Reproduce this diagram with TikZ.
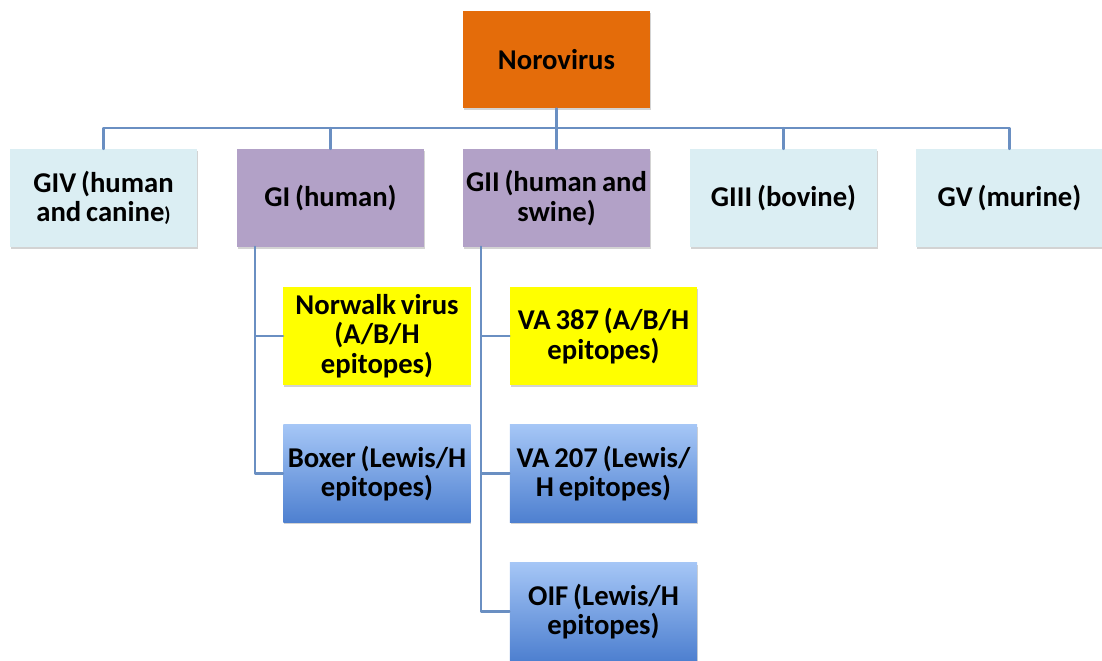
\documentclass[tikz,border=0pt]{standalone}
\usepackage{fontspec}
\setmainfont{Carlito}[WordSpace=0.75]
\usetikzlibrary{shadows}
\definecolor{noroorange}{HTML}{E46C0A}
\definecolor{hostpurple}{HTML}{B2A1C7}
\definecolor{otherblue}{HTML}{DBEEF3}
\definecolor{abhyellow}{HTML}{FFFF00}
\definecolor{lewistop}{HTML}{A5C6F6}
\definecolor{lewisbot}{HTML}{4E80D0}
\definecolor{linkblue}{HTML}{6A8FC2}
\tikzset{
  box/.style={rectangle,minimum width=140.5pt,minimum height=73pt,inner xsep=1pt,align=center,
    font=\fontsize{21.5}{22}\selectfont\bfseries,
    drop shadow={shadow xshift=0.6pt,shadow yshift=-1.6pt,opacity=0.35}},
  rootbox/.style={box,fill=noroorange},
  hostbox/.style={box,fill=hostpurple},
  otherbox/.style={box,fill=otherblue},
  abhbox/.style={box,fill=abhyellow},
  lewisbox/.style={box,top color=lewistop,bottom color=lewisbot},
  link/.style={draw=linkblue,line width=1.6pt}
}
\begin{document}
\begin{tikzpicture}[line cap=round,line join=round,x=0.75pt,y=-0.75pt]
    \useasboundingbox (0,0) rectangle (1102,660);
    % root and genogroups
    \node[rootbox] (noro) at (556.5,59.5) {Norovirus};
    \node[otherbox] (giv) at (103.5,198) {GIV (human\\and canine{\fontsize{15}{15}\selectfont)}};
    \node[hostbox] (gi) at (330.5,198) {GI (human)};
    \node[hostbox] (gii) at (556.5,198) {GII (human and\\swine)};
    \node[otherbox] (giii) at (783.5,198) {GIII (bovine)};
    \node[otherbox] (gv) at (1009.5,198) {GV (murine)};
    % strains
    \node[abhbox] (norwalk) at (377,336) {Norwalk virus\\(A/B/H\\epitopes)};
    \node[lewisbox] (boxer) at (377,473.5) {Boxer (Lewis/H\\epitopes)};
    \node[abhbox] (va387) at (603.5,336) {VA 387 (A/B/H\\epitopes)};
    \node[lewisbox] (va207) at (603.5,473.5) {VA 207 (Lewis/\\H epitopes)};
    \node[lewisbox] (oif) at (603.5,611.5) {OIF (Lewis/H\\epitopes)};
    % tree lines
    \coordinate (hub) at (556.5,128);
    \draw[link] (noro.south) -- (hub);
    \draw[link] (giv.north) |- (hub) -| (gv.north);
    \draw[link] (gi.north) -- (gi.north |- hub);
    \draw[link] (gii.north) -- (hub);
    \draw[link] (giii.north) -- (giii.north |- hub);
    \coordinate (gifoot) at ([xshift=13.5pt]gi.south west);
    \coordinate (giifoot) at ([xshift=14pt]gii.south west);
    \draw[link] (gifoot) |- (norwalk.west);
    \draw[link] (gifoot) |- (boxer.west);
    \draw[link] (giifoot) |- (va387.west);
    \draw[link] (giifoot) |- (va207.west);
    \draw[link] (giifoot) |- (oif.west);
\end{tikzpicture}
\end{document}
